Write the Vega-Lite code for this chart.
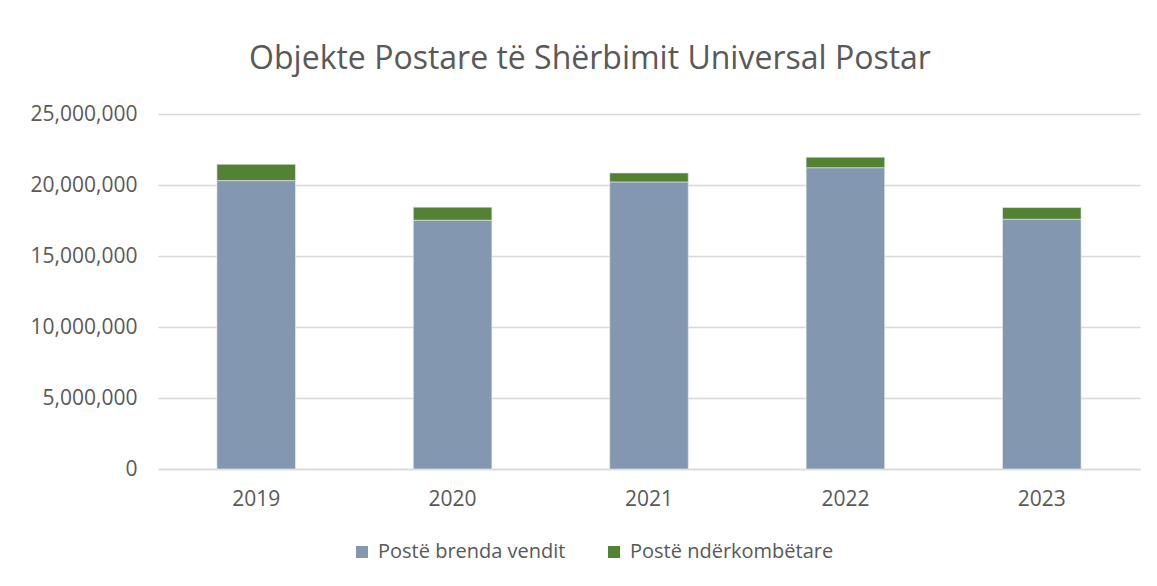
{
  "$schema": "https://vega.github.io/schema/vega-lite/v6.json",
  "autosize": {"type": "none"},
  "width": 982,
  "height": 355,
  "padding": {"left": 158, "top": 114, "right": 17, "bottom": 117},
  "background": "white",
  "config": {
    "font": "Open Sans",
    "view": {"stroke": null}
  },
  "title": {
    "text": "Objekte Postare të Shërbimit Universal Postar",
    "fontSize": 32,
    "font": "Open Sans",
    "fontWeight": "normal",
    "color": "#595959",
    "anchor": "middle",
    "dx": -59,
    "offset": 27
  },
  "data": {
    "values": [
      {"year": "2019", "type": "Postë brenda vendit", "value": 20310000},
      {"year": "2019", "type": "Postë ndërkombëtare", "value": 1150000},
      {"year": "2020", "type": "Postë brenda vendit", "value": 17520000},
      {"year": "2020", "type": "Postë ndërkombëtare", "value": 920000},
      {"year": "2021", "type": "Postë brenda vendit", "value": 20220000},
      {"year": "2021", "type": "Postë ndërkombëtare", "value": 630000},
      {"year": "2022", "type": "Postë brenda vendit", "value": 21220000},
      {"year": "2022", "type": "Postë ndërkombëtare", "value": 740000},
      {"year": "2023", "type": "Postë brenda vendit", "value": 17590000},
      {"year": "2023", "type": "Postë ndërkombëtare", "value": 820000}
    ]
  },
  "mark": {"type": "bar", "stroke": "#e8ecf2", "strokeWidth": 0.6},
  "encoding": {
    "x": {
      "field": "year",
      "type": "nominal",
      "scale": {"paddingInner": 0.6, "paddingOuter": 0.3},
      "axis": {
        "title": null,
        "labelAngle": 0,
        "labelFontSize": 21,
        "labelColor": "#595959",
        "labelPadding": 19,
        "ticks": false,
        "domain": true,
        "domainColor": "#d9d9d9",
        "domainWidth": 1.5
      }
    },
    "y": {
      "field": "value",
      "type": "quantitative",
      "stack": "zero",
      "scale": {"domain": [0, 25000000], "nice": false},
      "axis": {
        "title": null,
        "values": [0, 5000000, 10000000, 15000000, 20000000, 25000000],
        "format": ",d",
        "labelFontSize": 21,
        "labelColor": "#595959",
        "labelPadding": 21,
        "ticks": false,
        "domain": false,
        "gridColor": "#d9d9d9",
        "gridWidth": 1.5
      }
    },
    "color": {
      "field": "type",
      "type": "nominal",
      "scale": {
        "domain": ["Postë brenda vendit", "Postë ndërkombëtare"],
        "range": ["#8497b0", "#548235"]
      },
      "legend": {
        "title": null,
        "orient": "none",
        "direction": "horizontal",
        "legendX": 194,
        "legendY": 428,
        "symbolType": "square",
        "symbolSize": 144,
        "symbolStrokeWidth": 0,
        "labelFontSize": 20,
        "labelLimit": 400,
        "labelColor": "#595959",
        "columnPadding": 38,
        "labelOffset": 6
      }
    },
    "order": {"field": "type", "sort": "ascending"}
  }
}
